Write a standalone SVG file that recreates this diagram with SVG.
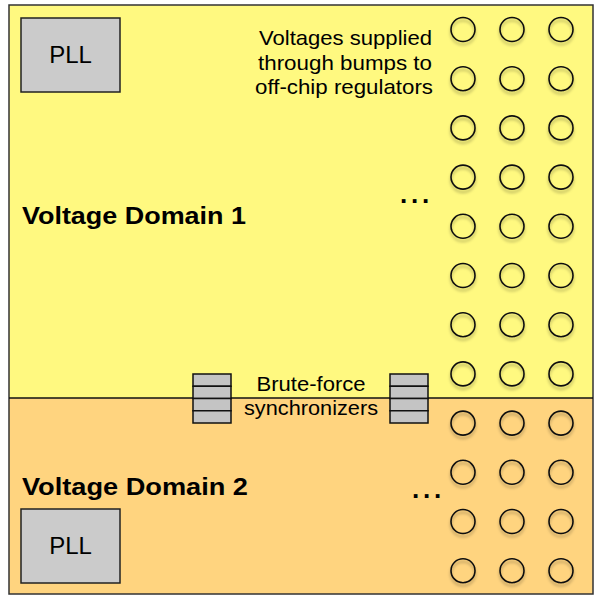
<svg xmlns="http://www.w3.org/2000/svg" width="600" height="595" viewBox="0 0 600 595">
<defs>
<style>
.t{font-family:"Liberation Sans",Arial,sans-serif;fill:#000}
.small{font-size:21px}
.title{font-size:24.5px;font-weight:bold}
.pll{font-size:24px;text-anchor:middle}
.box{fill:#CBCBCB;stroke:#222;stroke-width:1.5}
.bump{fill:none;stroke:#111;stroke-width:1.6;filter:url(#sh)}
.seg{fill:#C4C4C4;stroke:#111;stroke-width:1.5}
</style>
<filter id="sh" x="-50%" y="-50%" width="200%" height="200%">
<feDropShadow dx="0" dy="3" stdDeviation="1.8" flood-color="#000" flood-opacity="0.3"/>
</filter>
<g id="bumprow">
<circle class="bump" cx="463" cy="0" r="12"/>
<circle class="bump" cx="512" cy="0" r="12"/>
<circle class="bump" cx="561" cy="0" r="12"/>
</g>
<g id="sync">
<rect class="seg" x="0" y="0" width="38" height="12.25"/>
<rect class="seg" x="0" y="12.25" width="38" height="12.25"/>
<rect class="seg" x="0" y="24.5" width="38" height="12.25"/>
<rect class="seg" x="0" y="36.75" width="38" height="12.25"/>
</g>
</defs>

<g id="domain1">
<rect x="9" y="5" width="584" height="393" fill="#FFF980"/>
<text class="t title" x="22" y="223.5" textLength="224" lengthAdjust="spacingAndGlyphs">Voltage Domain 1</text>
</g>
<g id="domain2">
<rect x="9" y="398" width="584" height="196" fill="#FFD47F"/>
<text class="t title" x="22" y="494.5" textLength="226" lengthAdjust="spacingAndGlyphs">Voltage Domain 2</text>
</g>
<rect x="9" y="5" width="584" height="589" fill="none" stroke="#333" stroke-width="1.5"/>
<line x1="9" y1="398" x2="593" y2="398" stroke="#111" stroke-width="1.5"/>

<g id="pll1">
<rect class="box" x="21" y="18" width="99" height="74"/>
<text class="t pll" x="70.5" y="63">PLL</text>
</g>
<g id="pll2">
<rect class="box" x="21" y="509" width="99" height="74"/>
<text class="t pll" x="70.5" y="554">PLL</text>
</g>

<g id="bumps">
<use href="#bumprow" y="29.5"/>
<use href="#bumprow" y="78.7"/>
<use href="#bumprow" y="127.9"/>
<use href="#bumprow" y="177.1"/>
<use href="#bumprow" y="226.3"/>
<use href="#bumprow" y="275.5"/>
<use href="#bumprow" y="324.7"/>
<use href="#bumprow" y="373.9"/>
<use href="#bumprow" y="423.1"/>
<use href="#bumprow" y="472.3"/>
<use href="#bumprow" y="521.5"/>
<use href="#bumprow" y="570.7"/>
</g>

<g id="bump-label">
<text class="t small" x="432" y="45" text-anchor="end" textLength="173" lengthAdjust="spacingAndGlyphs">Voltages supplied</text>
<text class="t small" x="432" y="70" text-anchor="end" textLength="174" lengthAdjust="spacingAndGlyphs">through bumps to</text>
<text class="t small" x="433" y="94" text-anchor="end" textLength="178" lengthAdjust="spacingAndGlyphs">off-chip regulators</text>
</g>

<g id="ellipsis1"><text class="t" x="400" y="202.5" style="font-size:26px;font-weight:bold;letter-spacing:3.8px">...</text></g>
<g id="ellipsis2"><text class="t" x="412" y="497.5" style="font-size:26px;font-weight:bold;letter-spacing:3.8px">...</text></g>

<g id="sync-left"><use href="#sync" x="193" y="374"/></g>
<g id="sync-right"><use href="#sync" x="390" y="374"/></g>
<g id="sync-label">
<text class="t small" x="311" y="391" text-anchor="middle" textLength="109" lengthAdjust="spacingAndGlyphs">Brute-force</text>
<text class="t small" x="311" y="415" text-anchor="middle" textLength="134" lengthAdjust="spacingAndGlyphs">synchronizers</text>
</g>
<g id="connectors"/>
</svg>
